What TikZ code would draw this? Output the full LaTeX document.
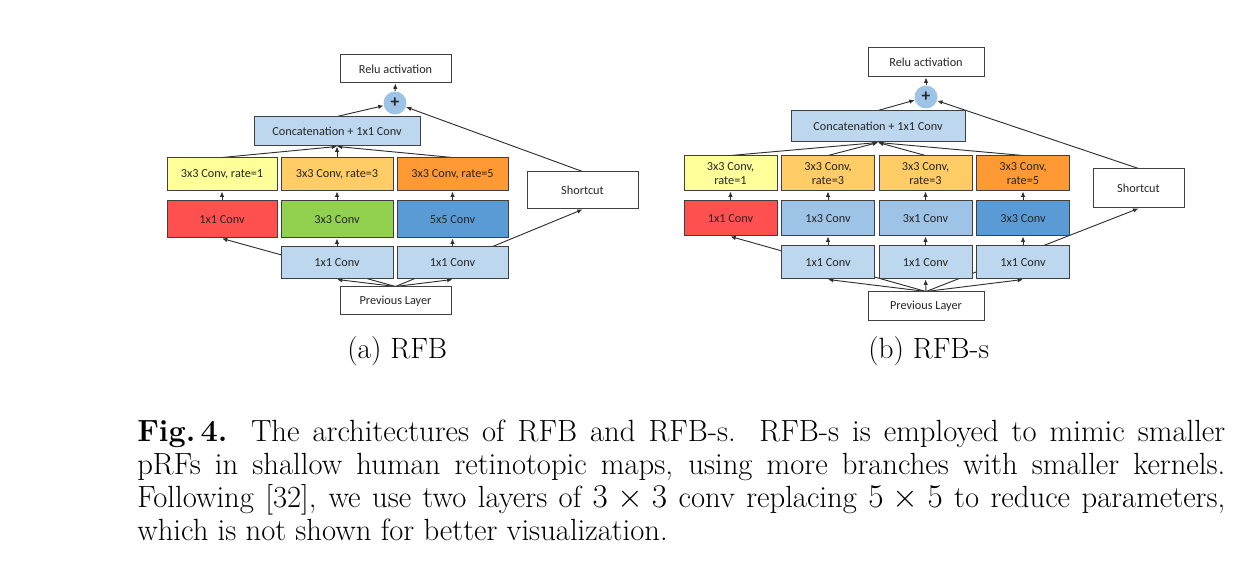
\documentclass[tikz,border=0pt]{standalone}
\usepackage{fontspec}
\newfontfamily\diagfont{Carlito}
\usetikzlibrary{arrows.meta}
\pgfdeclarelayer{bg}
\pgfsetlayers{bg,main}
\definecolor{cyel}{HTML}{FFFF99}
\definecolor{clor}{HTML}{FFCC66}
\definecolor{cor}{HTML}{FF9933}
\definecolor{cred}{HTML}{FF5050}
\definecolor{cgreen}{HTML}{92D050}
\definecolor{cblue}{HTML}{5B9BD5}
\definecolor{clb}{HTML}{BDD7EE}
\definecolor{cmb}{HTML}{9DC3E6}
\definecolor{cborder}{HTML}{404040}
\definecolor{cline}{HTML}{303030}
\definecolor{ctext}{HTML}{262626}
\tikzset{
  box/.style={draw=cborder, line width=0.75pt, inner sep=0pt, align=center,
    font=\diagfont\fontsize{9.2}{10.5}\selectfont, text=ctext},
  wh/.style 2 args={minimum width=#1*0.75pt, minimum height=#2*0.75pt},
  plusnode/.style={circle, fill=cmb, inner sep=0pt, minimum size=23*0.75pt,
    font=\diagfont\bfseries\fontsize{13}{13}\selectfont, text=ctext},
  conn/.style={draw=cline, line width=0.7pt},
  arr/.style={conn, -{Latex[length=4pt,width=3.4pt]}},
  subcap/.style={anchor=base west, inner sep=0pt, font=\fontsize{22}{26}\selectfont},
  capline/.style={anchor=base west, inner sep=0pt, text width=816pt, align=justify,
    font=\fontsize{23}{24.75}\selectfont},
}
\begin{document}
\begin{tikzpicture}[x=0.75pt, y=-0.75pt]
\useasboundingbox (0,0) rectangle (1240,566);
% ---------------- (a) RFB ----------------
\node[box, wh={111}{28}] (relua) at (395.5,69) {Relu activation};
\node[plusnode] (plusa) at (395,103) {+};
\node[box, wh={166}{29}, fill=clb] (concata) at (337,131.5) {Concatenation + 1x1 Conv};
\node[box, wh={110}{33}, fill=cyel] (r1a) at (222,174.5) {3x3 Conv, rate=1};
\node[box, wh={112}{33}, fill=clor] (r3a) at (337,174.5) {3x3 Conv, rate=3};
\node[box, wh={111}{33}, fill=cor] (r5a) at (452.5,174.5) {3x3 Conv, rate=5};
\node[box, wh={110}{37}, fill=cred] (c1a) at (222,219.5) {1x1 Conv};
\node[box, wh={112}{37}, fill=cgreen] (c3a) at (337,219.5) {3x3 Conv};
\node[box, wh={111}{37}, fill=cblue] (c5a) at (452.5,219.5) {5x5 Conv};
\node[box, wh={112}{32}, fill=clb] (p2a) at (337,263) {1x1 Conv};
\node[box, wh={111}{32}, fill=clb] (p3a) at (452.5,263) {1x1 Conv};
\node[box, wh={111}{28}, fill=white] (preva) at (395.5,301) {Previous Layer};
\node[box, wh={111}{37}, fill=white] (shorta) at (582.5,190.5) {Shortcut};
% ---------------- (b) RFB-s ----------------
\node[box, wh={116}{29}] (relub) at (926,62.5) {Relu activation};
\node[plusnode] (plusb) at (926,97) {+};
\node[box, wh={174}{31}, fill=clb] (concatb) at (878,126.5) {Concatenation + 1x1 Conv};
\node[box, wh={93}{35}, fill=cyel] (r1b) at (730.5,173.5) {3x3 Conv,\\rate=1};
\node[box, wh={93}{35}, fill=clor] (r2b) at (828,173.5) {3x3 Conv,\\rate=3};
\node[box, wh={93}{35}, fill=clor] (r3b) at (925.5,173.5) {3x3 Conv,\\rate=3};
\node[box, wh={93}{35}, fill=cor] (r4b) at (1023,173.5) {3x3 Conv,\\rate=5};
\node[box, wh={93}{35}, fill=cred] (c1b) at (730.5,218.5) {1x1 Conv};
\node[box, wh={93}{35}, fill=cmb] (c2b) at (828,218.5) {1x3 Conv};
\node[box, wh={93}{35}, fill=cmb] (c3b) at (925.5,218.5) {3x1 Conv};
\node[box, wh={93}{35}, fill=cblue] (c4b) at (1023,218.5) {3x3 Conv};
\node[box, wh={93}{33}, fill=clb] (p2b) at (828,262.5) {1x1 Conv};
\node[box, wh={93}{33}, fill=clb] (p3b) at (925.5,262.5) {1x1 Conv};
\node[box, wh={93}{33}, fill=clb] (p4b) at (1023,262.5) {1x1 Conv};
\node[box, wh={116}{29}, fill=white] (prevb) at (926,306.5) {Previous Layer};
\node[box, wh={91}{39}, fill=white] (shortb) at (1138.5,188.5) {Shortcut};
% ---------------- connectors ----------------
\begin{pgfonlayer}{bg}
\draw[arr] (preva.north) -- (p2a.south);
\draw[arr] (preva.north) -- (p3a.south);
\draw[arr] (preva.north) -- (c1a.south);
\draw[arr] (preva.north) -- (shorta.south);
\draw[arr] (p2a.north) -- (c3a.south);
\draw[arr] (p3a.north) -- (c5a.south);
\draw[arr] (c1a.north) -- (r1a.south);
\draw[arr] (c3a.north) -- (r3a.south);
\draw[arr] (c5a.north) -- (r5a.south);
\draw[arr] (r1a.north) -- (concata.south);
\draw[arr] (r3a.north) -- (concata.south);
\draw[arr] (r5a.north) -- (concata.south);
\draw[arr] (concata.north) -- (plusa);
\draw[arr] (shorta.north) -- (plusa);
\draw[arr] (plusa.north) -- (relua.south);
%
\draw[arr] (prevb.north) -- (p2b.south);
\draw[arr] (prevb.north) -- (p3b.south);
\draw[arr] (prevb.north) -- (p4b.south);
\draw[arr] (prevb.north) -- (c1b.south);
\draw[arr] (prevb.north) -- (shortb.south);
\draw[arr] (p2b.north) -- (c2b.south);
\draw[arr] (p3b.north) -- (c3b.south);
\draw[arr] (p4b.north) -- (c4b.south);
\draw[arr] (c1b.north) -- (r1b.south);
\draw[arr] (c2b.north) -- (r2b.south);
\draw[arr] (c3b.north) -- (r3b.south);
\draw[arr] (c4b.north) -- (r4b.south);
\draw[arr] (r1b.north) -- (concatb.south);
\draw[arr] (r2b.north) -- (concatb.south);
\draw[arr] (r3b.north) -- (concatb.south);
\draw[arr] (r4b.north) -- (concatb.south);
\draw[arr] (concatb.north) -- (plusb);
\draw[arr] (shortb.north) -- (plusb);
\draw[arr] (plusb.north) -- (relub.south);
\end{pgfonlayer}
% ---------------- captions ----------------
\node[subcap] (capa) at (347,359) {(a) RFB};
\node[subcap] (capb) at (868,359) {(b) RFB-s};
\node[capline] (cap) at (137,442)
 {\noindent\textbf{Fig.\,4.} The architectures of RFB and RFB-s. RFB-s is employed to mimic smaller\linebreak
 pRFs in shallow human retinotopic maps, using more branches with smaller kernels.\linebreak
 Following [32], we use two layers of $3\times3$ conv replacing $5\times5$ to reduce parameters,\linebreak
 which is not shown for better visualization.};
\end{tikzpicture}
\end{document}
